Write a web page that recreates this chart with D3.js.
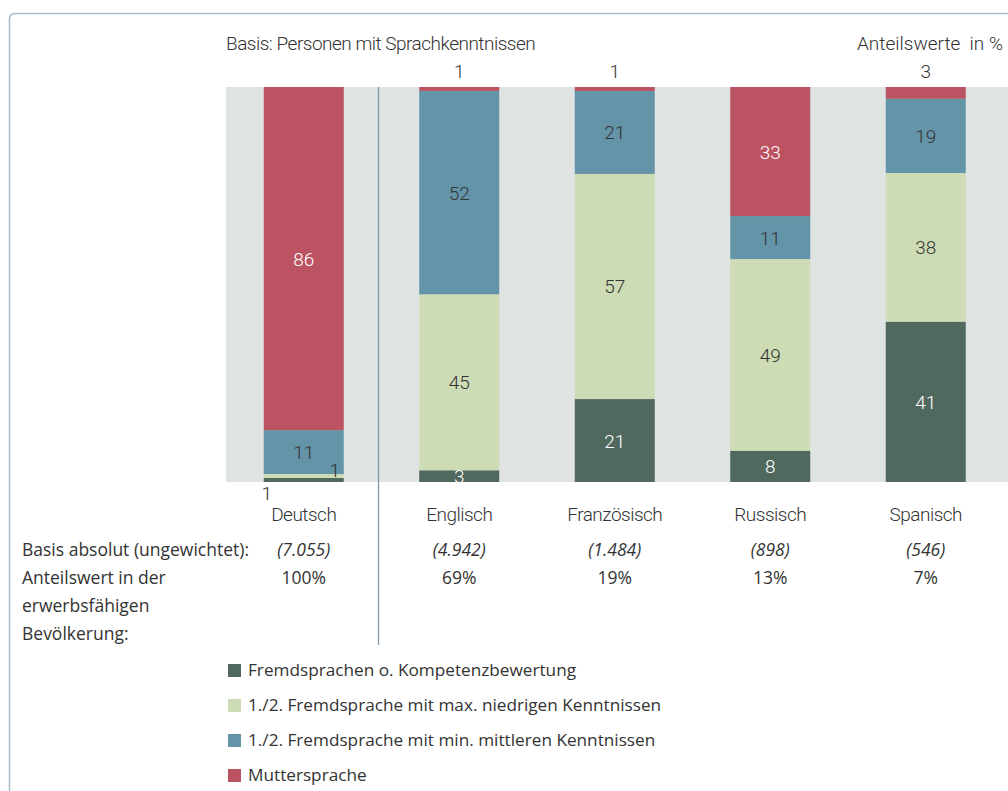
<!DOCTYPE html>
<html lang="de">
<head>
<meta charset="utf-8">
<script src="https://cdn.jsdelivr.net/npm/d3@7"></script>
<style>
  html, body { margin: 0; padding: 0; background: #ffffff; }
  svg { display: block; }
  .cond { font-family: Roboto, "DejaVu Sans Condensed", sans-serif; font-weight: 300; }
  .narrow { letter-spacing: -0.5px; }
  .reg { font-family: "Open Sans", "Liberation Sans", sans-serif; }
</style>
</head>
<body>
<svg id="chart" width="1008" height="791"></svg>
<script>
// Sprachkenntnisse nach Sprache, Anteilswerte in %
const categories = ["Deutsch", "Englisch", "Französisch", "Russisch", "Spanisch"];
const seriesNames = [
  "Fremdsprachen o. Kompetenzbewertung",
  "1./2. Fremdsprache mit max. niedrigen Kenntnissen",
  "1./2. Fremdsprache mit min. mittleren Kenntnissen",
  "Muttersprache"
];
const fremdOhneBewertung = [1, 3, 21, 8, 41];
const fremdNiedrig = [1, 45, 57, 49, 38];
const fremdMittel = [11, 52, 21, 11, 19];
const muttersprache = [86, 1, 1, 33, 3];
const basisAbsolut = ["(7.055)", "(4.942)", "(1.484)", "(898)", "(546)"];
const anteilBevoelkerung = ["100%", "69%", "19%", "13%", "7%"];

const colors = ["#50685e", "#cddcb4", "#6494a8", "#bc5363"];
const labelColors = ["#ffffff", "#333333", "#333333", "#ffffff"];

const seriesValues = [fremdOhneBewertung, fremdNiedrig, fremdMittel, muttersprache];
const keys = seriesNames;
const rows = categories.map((c, i) => {
  const r = { category: c };
  keys.forEach((k, j) => { r[k] = seriesValues[j][i]; });
  return r;
});

const svg = d3.select("#chart");

// Rahmen mit abgerundeter Ecke oben links
svg.append("path")
  .attr("d", "M9.5,800 L9.5,19 Q9.5,13.5 15,13.5 L1020,13.5")
  .attr("fill", "none")
  .attr("stroke", "#a9bcc7")
  .attr("stroke-width", 1.5);

const plotTop = 87, plotBottom = 482, plotLeft = 226, plotRight = 1003.5;
const barW = 80;

const x = d3.scaleBand()
  .domain(categories)
  .range([plotLeft, plotRight])
  .paddingInner(0.4855)
  .paddingOuter(0.4855 / 2);

const y = d3.scaleLinear().domain([0, 1]).range([plotBottom, plotTop]);

// Hintergrund der Grafikfläche
svg.append("rect")
  .attr("x", plotLeft).attr("y", plotTop)
  .attr("width", 1008 - plotLeft).attr("height", plotBottom - plotTop)
  .attr("fill", "#dfe3e2");

const stack = d3.stack().keys(keys).offset(d3.stackOffsetExpand);
const stacked = stack(rows);

const layers = svg.append("g").selectAll("g")
  .data(stacked)
  .join("g")
  .attr("fill", (d, i) => colors[i]);

layers.selectAll("rect")
  .data(d => d)
  .join("rect")
  .attr("x", d => x(d.data.category) + (x.bandwidth() - barW) / 2)
  .attr("width", barW)
  .attr("y", d => y(d[1]))
  .attr("height", d => y(d[0]) - y(d[1]));

// Trennlinie zwischen Muttersprache Deutsch und Fremdsprachen
svg.append("line")
  .attr("x1", 378.5).attr("x2", 378.5)
  .attr("y1", plotTop).attr("y2", 645)
  .attr("stroke", "#7f9bab").attr("stroke-width", 1.3);

// Wertelabels
const cx = c => x(c) + x.bandwidth() / 2;
const labelG = svg.append("g").attr("class", "cond").attr("font-size", 19);
stacked.forEach((layer, si) => {
  layer.forEach(d => {
    const v = d.data[layer.key];
    const c = d.data.category;
    let lx = cx(c), ly = (y(d[0]) + y(d[1])) / 2 + 7, fill = labelColors[si];
    if (c === "Deutsch" && si === 0) {
      lx = cx(c) - barW / 2 + 3; ly = plotBottom + 18; fill = "#333333";
    } else if (c === "Deutsch" && si === 1) {
      lx = cx(c) + barW / 2 - 9; ly = plotBottom - 5; fill = "#333333";
    } else if (si === 3 && v < 5) {
      ly = plotTop - 9; fill = "#333333";
    }
    labelG.append("text")
      .attr("x", lx).attr("y", ly)
      .attr("text-anchor", "middle")
      .attr("fill", fill)
      .text(v);
  });
});

// Kopfzeilen
svg.append("text").attr("class", "cond narrow")
  .attr("x", plotLeft).attr("y", 50).attr("font-size", 19).attr("fill", "#333333")
  .text("Basis: Personen mit Sprachkenntnissen");
svg.append("text").attr("class", "cond")
  .attr("x", 1003).attr("y", 50).attr("font-size", 19).attr("fill", "#333333")
  .attr("text-anchor", "end")
  .attr("xml:space", "preserve")
  .text("Anteilswerte  in %");

// Kategorienachse
const xAxis = d3.axisBottom(x).tickSize(0).tickPadding(0);
const axisG = svg.append("g")
  .attr("transform", `translate(0,${plotBottom})`)
  .call(xAxis);
axisG.select(".domain").remove();
axisG.selectAll("text")
  .attr("class", "cond narrow")
  .attr("font-size", 19)
  .attr("fill", "#333333")
  .attr("dy", null)
  .attr("y", 39);

// Basis- und Anteilszeilen
const infoG = svg.append("g").attr("class", "reg").attr("font-size", 17.5).attr("fill", "#333333");
infoG.append("text").attr("x", 22).attr("y", 556).text("Basis absolut (ungewichtet):");
infoG.append("text").attr("x", 22).attr("y", 584).text("Anteilswert in der");
infoG.append("text").attr("x", 22).attr("y", 612).text("erwerbsfähigen");
infoG.append("text").attr("x", 22).attr("y", 640).text("Bevölkerung:");
categories.forEach((c, i) => {
  infoG.append("text").attr("x", cx(c)).attr("y", 556)
    .attr("text-anchor", "middle").attr("font-style", "italic").text(basisAbsolut[i]);
  infoG.append("text").attr("x", cx(c)).attr("y", 584)
    .attr("text-anchor", "middle").text(anteilBevoelkerung[i]);
});

// Legende
const legend = svg.append("g").attr("class", "reg").attr("font-size", 17.2);
seriesNames.forEach((name, i) => {
  const ly = 670 + i * 35;
  legend.append("rect")
    .attr("x", 228).attr("y", ly - 6).attr("width", 13).attr("height", 13)
    .attr("fill", colors[i]);
  legend.append("text")
    .attr("x", 248).attr("y", ly + 6)
    .attr("fill", "#333333")
    .text(name);
});
</script>
</body>
</html>
